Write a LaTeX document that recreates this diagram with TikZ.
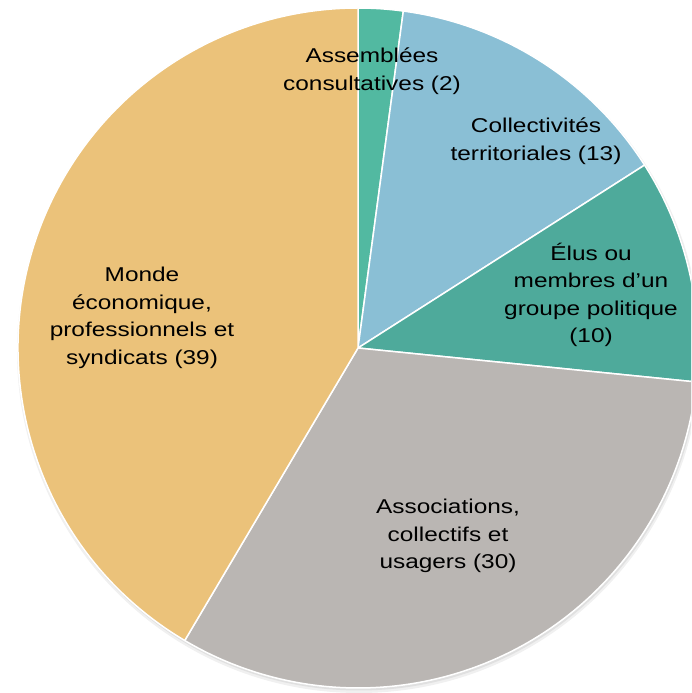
\documentclass[tikz,border=0pt]{standalone}
\usepackage{fontspec}
\setmainfont{Liberation Sans}[FakeStretch=1.22]
\definecolor{assemb}{RGB}{82,185,161}
\definecolor{collec}{RGB}{138,191,213}
\definecolor{elus}{RGB}{78,170,155}
\definecolor{assoc}{RGB}{186,182,179}
\definecolor{monde}{RGB}{235,194,122}

\begin{document}
\begin{tikzpicture}[x=1pt, y=1pt,
    slice/.style={draw=white, line width=1.5pt, line join=round},
    label/.style={align=center, text=black, font=\fontsize{20}{27.5}\selectfont}]
    \useasboundingbox (0,0) rectangle (691,693);
    \clip (0,0) rectangle (691,693);

    \coordinate (O) at (358,345);

    % soft shadow
    \fill[black!6] (359,342) circle (342);
    \fill[black!12] (359,343) circle (340.5);

    % slices, clockwise from the top
    \filldraw[slice, fill=assemb] (O) -- ++(90:340) arc[start angle=90, end angle=82.34, radius=340] -- cycle;
    \filldraw[slice, fill=collec] (O) -- ++(82.34:340) arc[start angle=82.34, end angle=32.55, radius=340] -- cycle;
    \filldraw[slice, fill=elus] (O) -- ++(32.55:340) arc[start angle=32.55, end angle=-5.74, radius=340] -- cycle;
    \filldraw[slice, fill=assoc] (O) -- ++(-5.74:340) arc[start angle=-5.74, end angle=-120.64, radius=340] -- cycle;
    \filldraw[slice, fill=monde] (O) -- ++(-120.64:340) arc[start angle=-120.64, end angle=-270, radius=340] -- cycle;

    \node (assemb) at (372,622) [label] {Assemblées\\consultatives (2)};
    \node (collec) at (536,552) [label] {Collectivités\\territoriales (13)};
    \node (elus) at (591,398) [label] {Élus ou\\membres d’un\\groupe politique\\(10)};
    \node (monde) at (142,375) [label] {Monde\\économique,\\professionnels et\\syndicats (39)};
    \node (assoc) at (448,157) [label] {Associations,\\collectifs et\\usagers (30)};
\end{tikzpicture}
\end{document}
